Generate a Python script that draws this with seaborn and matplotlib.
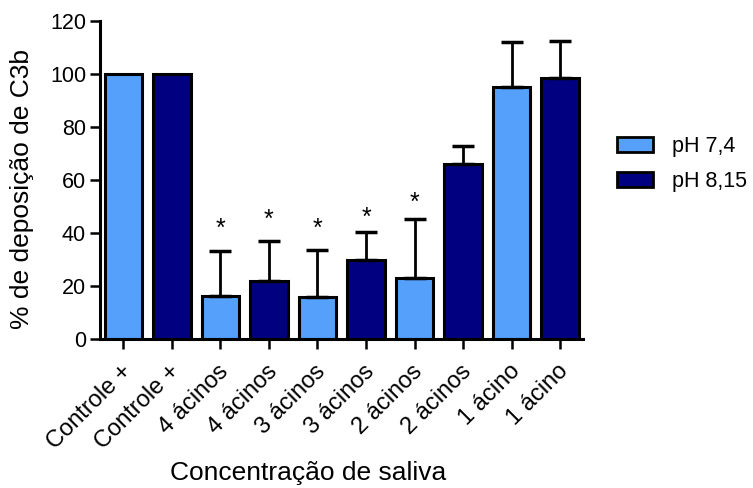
import numpy as np
import pandas as pd
import matplotlib
matplotlib.use("Agg")
import matplotlib.pyplot as plt
import matplotlib.patches as mpatches
import matplotlib.transforms as mtransforms
import seaborn as sns

# values
labels = ["Controle +", "Controle +", "4 ácinos", "4 ácinos", "3 ácinos",
          "3 ácinos", "2 ácinos", "2 ácinos", "1 ácino", "1 ácino"]
groups = ["pH 7,4", "pH 8,15"] * 5
means = [100, 100, 16.3, 22.0, 16.0, 30.0, 23.2, 66.0, 95.0, 98.4]
err_top = [np.nan, np.nan, 33.3, 37.0, 33.7, 40.2, 45.3, 72.9, 112.1, 112.6]
star_idx = [2, 3, 4, 5, 6]
star_y = [41.6, 44.8, 41.4, 45.6, 51.3]

colors = {"pH 7,4": "#55a0fa", "pH 8,15": "#000080"}

sns.set_style("ticks")
plt.rcParams["font.family"] = ["Liberation Sans", "DejaVu Sans"]
plt.rcParams.update({"text.color": "black", "axes.labelcolor": "black",
                     "xtick.color": "black", "ytick.color": "black",
                     "axes.edgecolor": "black"})

df = pd.DataFrame({"pos": [str(i) for i in range(len(means))],
                   "value": means, "group": groups})

fig = plt.figure(figsize=(7.53, 4.88), dpi=100)
ax = fig.add_axes([100 / 753, 1 - 339 / 488, 483 / 753, 318 / 488])

sns.barplot(data=df, x="pos", y="value", hue="group", palette=colors,
            dodge=False, width=0.77, edgecolor="black", linewidth=2.2,
            saturation=1, errorbar=None, legend=False, ax=ax)

# upper-only error bars
for i, (m, e) in enumerate(zip(means, err_top)):
    if np.isnan(e):
        continue
    ax.errorbar(i, m, yerr=[[0], [e - m]], fmt="none", ecolor="black",
                elinewidth=2, capsize=8, capthick=2.5, zorder=1)

for i, y in zip(star_idx, star_y):
    ax.text(i, y, "*", ha="center", va="center", fontsize=18)

ax.set_xlim(-0.48, len(means) - 0.53)
ax.set_ylim(0, 120)
ax.set_yticks(range(0, 121, 20))
ax.set_xticks(range(len(means)))
ax.set_xticklabels(labels, rotation=45, ha="right", va="center",
                   rotation_mode="anchor", fontsize=17)
ax.tick_params(axis="y", labelsize=15.5, width=1.8, length=7, pad=3)
ax.tick_params(axis="x", width=1.8, length=7, pad=14)
shift = mtransforms.ScaledTranslation(0.048, 0, fig.dpi_scale_trans)
for lab in ax.get_xticklabels():
    lab.set_transform(lab.get_transform() + shift)

ax.set_xlabel("Concentração de saliva", fontsize=19)
ax.set_ylabel("% de deposição de C3b", fontsize=19)
ax.xaxis.set_label_coords(0.43, -0.385)
ax.yaxis.set_label_coords(-0.137, 0.472)
sns.despine(ax=ax)
for s in ["left", "bottom"]:
    ax.spines[s].set_linewidth(2.2)

handles = [mpatches.Patch(facecolor=colors[g], edgecolor="black", linewidth=2, label=g)
           for g in ["pH 7,4", "pH 8,15"]]
fig.legend(handles=handles, loc="center left", bbox_to_anchor=(608 / 753, 1 - 164 / 488),
           frameon=False, fontsize=15.5, handlelength=1.7, handleheight=0.7,
           handletextpad=0.85, labelspacing=0.65, borderaxespad=0)

fig.savefig("out.png", dpi=100)
